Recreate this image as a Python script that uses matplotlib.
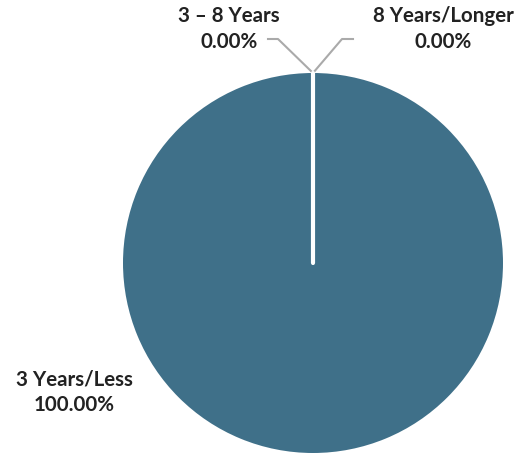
import numpy as np
import matplotlib
matplotlib.use('Agg')
import matplotlib.pyplot as plt

LABELS = ['3 Years/Less', '3 \u2013 8 Years', '8 Years/Longer']
VALUES = [100.0, 0.0, 0.0]
COLOR = '#3f7089'

W, H = 522, 454
CENTER = (313, 191)
RADIUS = 190

plt.rcParams['font.family'] = ['Lato', 'DejaVu Sans']

fig = plt.figure(figsize=(W / 100, H / 100), dpi=100)
ax = fig.add_axes([0, 0, 1, 1])

wedges, _ = ax.pie(VALUES, colors=[COLOR] * 3, startangle=90, counterclock=False,
                   center=CENTER, radius=RADIUS, frame=True,
                   wedgeprops=dict(edgecolor='none'))
ax.set_xlim(0, W)
ax.set_ylim(0, H)
ax.set_aspect('equal')
ax.axis('off')

# white seam where the slices meet
ang = np.deg2rad(90)
top = (CENTER[0] + RADIUS * np.cos(ang), CENTER[1] + RADIUS * np.sin(ang))
ax.plot([CENTER[0], top[0]], [CENTER[1], top[1]], color='white', lw=3,
        solid_capstyle='round', zorder=5)

txt = dict(fontsize=14.8, fontweight='bold', color='#222222', ha='center',
           va='center', linespacing=1.35)

# zero slices: leader lines from the top of the pie
ax.plot([top[0], 278, 268], [top[1], 415, 415], color='#aaaaaa', lw=1.5, zorder=4)
ax.plot([top[0], 342, 353], [top[1], 415, 415], color='#aaaaaa', lw=1.5, zorder=4)

ax.text(229, 425, '{}\n{:.2f}%'.format(LABELS[1], VALUES[1]), **txt)
ax.text(443, 425, '{}\n{:.2f}%'.format(LABELS[2], VALUES[2]), **txt)
ax.text(74, 62, '{}\n{:.2f}%'.format(LABELS[0], VALUES[0]), **txt)

fig.savefig('out.png', dpi=100)
